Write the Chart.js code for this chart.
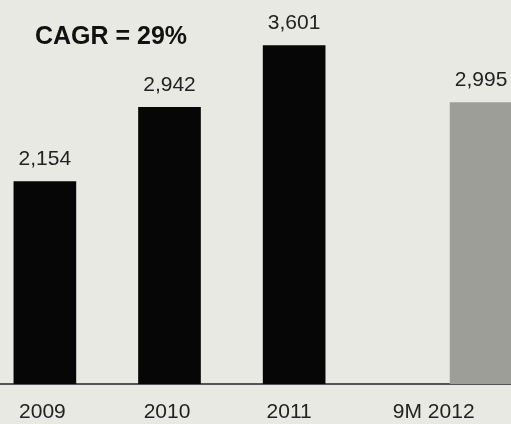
<!DOCTYPE html>
<html>
<head>
<meta charset="utf-8">
<script src="https://cdn.jsdelivr.net/npm/chart.js@4"></script>
<style>
  html, body { margin: 0; padding: 0; background: #e9e9e4; }
  #wrap { width: 511px; height: 424px; }
</style>
</head>
<body>
<div id="wrap"><canvas id="revenue"></canvas></div>
<script>
// revenue by year
const periods = ['2009', '2010', '2011', '9M 2012'];
const revenue = [2154, 2942, 3601, 2995];
const barSlots = [0, 1, 2, 3.5];          // position of each bar on the x scale
const labelSlots = [-0.02, 0.98, 1.96, 3.12]; // where each period label sits
const barColors = ['#060606', '#060606', '#060606', '#9e9e99'];
const cagrText = 'CAGR = 29%';

const fmt = v => v.toLocaleString('en-US');

// value above each bar + the CAGR note
const barLabels = {
    id: 'barLabels',
    afterDatasetsDraw(chart) {
        const ctx = chart.ctx;
        const meta = chart.getDatasetMeta(0);
        ctx.save();
        ctx.fillStyle = '#222';
        ctx.font = '21px "Liberation Sans", Arial, sans-serif';
        ctx.textAlign = 'center';
        ctx.textBaseline = 'middle';
        meta.data.forEach((bar, i) => {
            ctx.fillText(fmt(revenue[i]), bar.x, bar.y - 22);
        });
        ctx.font = 'bold 25px "Liberation Sans", Arial, sans-serif';
        ctx.fillStyle = '#111';
        ctx.fillText(cagrText, 111, 37);
        ctx.restore();
    }
};

new Chart(document.getElementById('revenue'), {
    type: 'bar',
    data: {
        datasets: [{
            data: revenue.map((v, i) => ({ x: barSlots[i], y: v })),
            backgroundColor: barColors,
            barThickness: 62
        }]
    },
    options: {
        responsive: true,
        maintainAspectRatio: false,
        animation: false,
        layout: { padding: { top: 8, left: 0, right: 0, bottom: 0 } },
        plugins: {
            legend: { display: false },
            tooltip: { enabled: false }
        },
        scales: {
            x: {
                type: 'linear',
                offset: false,
                min: -0.36,
                max: 3.74,
                grid: { display: false, drawTicks: false },
                border: { display: true, color: '#555', width: 2 },
                afterBuildTicks: scale => {
                    scale.ticks = labelSlots.map(v => ({ value: v }));
                },
                afterFit: scale => { scale.height = 40; },
                ticks: {
                    autoSkip: false,
                    maxRotation: 0,
                    padding: 16,
                    color: '#222',
                    font: { family: '"Liberation Sans", Arial, sans-serif', size: 21 },
                    callback: (v, i) => periods[i]
                }
            },
            y: {
                display: false,
                min: 0,
                max: 4000
            }
        }
    },
    plugins: [barLabels]
});
</script>
</body>
</html>
